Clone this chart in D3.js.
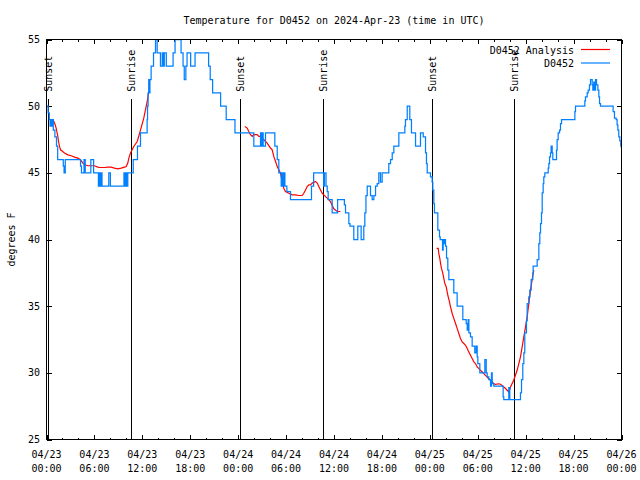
<!DOCTYPE html>
<html><head><meta charset="utf-8">
<script src="https://cdn.jsdelivr.net/npm/d3@7"></script>
<style>
body{margin:0;background:#fff}
svg{display:block}
text{font-family:"DejaVu Sans Mono","Liberation Mono",monospace;font-size:10px;fill:#000}
</style></head>
<body><svg id="c" width="640" height="480"></svg>
<script>
// ---- data ----
const title = "Temperature for D0452 on 2024-Apr-23 (time in UTC)";
const yLabel = "degrees F";
const seriesNames = ["D0452 Analysis", "D0452"];
const xTickHours = [0,6,12,18,24,30,36,42,48,54,60,66,72];
const xTickDates = ["04/23","04/23","04/23","04/23","04/24","04/24","04/24","04/24","04/25","04/25","04/25","04/25","04/26"];
const xTickTimes = ["00:00","06:00","12:00","18:00","00:00","06:00","12:00","18:00","00:00","06:00","12:00","18:00","00:00"];
const yTicks = [25,30,35,40,45,50,55];
const sunLabels = ["Sunset","Sunrise","Sunset","Sunrise","Sunset","Sunrise"];
const sunHours  = [0.13, 10.55, 24.2, 34.6, 48.25, 58.52];
const sunMarkTop = 50.55;

// observed station temperature (hour since 04/23 00:00 UTC, deg F)
const obsHours = [0.0,0.2,0.35,0.45,0.55,0.65,0.75,0.85,1.05,1.25,1.4,2.1,2.2,2.35,4.26,4.38,4.7,4.85,5.55,5.9,6.5,6.6,6.75,6.8,6.95,7.8,8.0,9.7,9.85,9.95,10.02,10.18,10.86,11.39,11.77,
12.6,12.65,12.72,12.8,12.88,12.95,13.1,13.4,13.65,13.86,14.27,14.5,14.65,14.75,15.0,15.85,16.1,16.85,17.1,17.25,17.45,17.6,18.05,18.6,20.3,20.5,20.8,21.8,22.5,23.6,
25.96,26.8,26.92,27.0,27.13,27.42,28.59,28.89,29.09,29.39,29.5,29.6,29.75,29.85,30.1,30.55,33.18,33.45,34.7,34.8,35.0,35.15,35.27,35.77,36.45,
37.3,37.44,37.86,38.0,38.48,38.98,39.4,39.73,39.86,40.0,40.16,40.57,40.78,40.99,41.2,41.41,41.61,41.82,42.03,42.86,43.08,43.29,43.49,44.12,44.87,44.95,45.17,45.49,45.7,46.21,46.83,
47.17,47.46,47.58,47.67,48.08,48.29,48.37,48.5,48.58,49.0,49.21,49.3,49.59,49.67,49.76,49.84,49.96,50.09,50.25,50.38,51.0,51.42,52.13,52.55,52.68,52.8,52.89,53.09,53.3,53.63,53.8,53.93,54.01,54.26,54.89,55.06,55.18,55.39,55.6,55.72,55.81,56.01,57.18,57.26,57.89,58.01,
59.35,59.48,59.64,59.77,59.89,60.1,60.19,60.39,60.52,60.69,60.89,60.94,61.44,61.65,61.77,61.86,61.98,62.07,62.19,62.27,62.4,62.82,62.9,62.99,63.11,63.19,63.32,63.4,63.86,63.94,64.07,64.24,64.36,64.49,66.16,66.24,67.41,67.49,67.7,67.83,67.99,68.12,68.33,68.41,68.53,68.66,68.75,68.87,69.04,69.16,69.25,69.37,70.95,71.12,71.33,71.45,71.54,71.66,71.79,71.91,72];
const obsTemps = [50,49.5,49,48.5,49,48.5,49,48.2,47.7,47,46,45.5,45,46,45.5,45,46,45,46,45,44,45,44,45,44,45,44,45,44,45,44,45,46,47,48,
49,50,51,52,51,52,53,54,55,54,53,54,53,54,53,54,55,54,53,52,53,54,53,54,53,52,51,50,49,48,
47,48,47,48,47,48,47,46,45,44,45,44,45,44,43.6,43,44,45,44,45,44,43.6,43,42,43,
42.6,42,41.2,41,40,41,40,41,42,43.3,44,43.3,43,43.3,44,44.2,45,44.3,45,45.7,46,46.5,47,48,48.5,49,50,49,48,47,48,
47.7,46.5,45.7,45,44.7,44.3,43.7,42.7,42,40.7,40.2,40,39.2,40,39.7,40,39.5,38.6,37.7,37,36,35,34,33.7,33.2,34,33,32.7,32,31.5,32,31.2,30.7,30,31,30,29.7,29.5,29,30,29.2,29,28.2,28,28.9,28,
28.5,29.5,30.7,31.5,33,33.9,35.2,35.7,36.2,37,37.5,38,38.5,39.7,40.5,41.2,42,43.5,44.2,44.7,45,45.35,45.7,46.2,46.5,47,46.5,46,46.7,47.5,48,48.2,48.7,49,49.6,50,50.4,50.7,51,51.2,51.6,52,51.6,51.2,51.8,51.2,52,51.6,51.2,50.7,50.2,50,49.6,49.1,49,48.6,48.2,47.7,47.4,47,46.8];

// analysis (null separates gaps)
const anaHours = [0.8,0.92,1.0,1.09,1.21,1.29,1.42,1.5,1.63,1.75,2.04,2.25,2.67,3.09,3.51,3.92,4.26,4.55,4.76,5.17,6.01,6.42,6.64,7.26,7.68,8.1,8.51,8.93,9.35,9.77,9.98,10.18,10.31,10.52,10.93,11.36,11.77,12.18,12.61,12.81,
null,
24.83,25.13,25.33,25.54,25.76,25.96,26.38,26.59,26.8,27.01,27.21,27.63,28.05,28.26,28.46,28.68,28.89,29.09,29.3,29.51,29.71,29.93,30.34,30.77,31.18,31.59,32.02,32.22,32.43,32.64,32.85,33.06,33.27,33.68,33.9,34.1,34.31,34.52,34.72,35.15,35.56,35.98,36.4,36.81,
null,
48.84,49.05,49.12,49.25,49.34,49.46,49.63,49.75,49.87,50.05,50.17,50.3,50.46,50.59,50.8,51.0,51.22,51.43,51.63,51.84,52.05,52.26,52.47,52.68,52.88,53.09,53.3,53.51,53.72,53.93,54.14,54.35,54.56,54.76,54.97,55.18,55.39,55.6,55.81,56.01,56.22,56.64,56.85,57.27,57.6,57.89,58.1,58.5,58.93,59.35,59.77,60.19,60.6,60.94,61.02];
const anaTemps = [49.0,48.86,48.73,48.6,48.36,48.1,47.73,47.35,46.98,46.73,46.6,46.48,46.35,46.28,46.18,46.1,45.98,45.73,45.6,45.53,45.53,45.43,45.4,45.4,45.43,45.43,45.35,45.3,45.35,45.43,45.47,45.73,46.1,46.48,46.98,47.35,48.2,49.1,50.36,51.1,
null,
48.48,48.36,48.1,47.86,47.73,47.86,47.86,47.73,47.73,47.6,47.48,47.23,46.86,46.73,46.23,45.85,45.47,45.23,44.98,44.35,43.85,43.6,43.47,43.35,43.35,43.3,43.3,43.47,43.72,43.97,44.1,44.1,44.23,44.35,44.23,43.97,43.72,43.47,43.35,43.1,42.84,42.3,42.1,42.1,
null,
39.34,39.34,38.96,38.59,38.21,37.83,37.46,37.08,36.71,36.46,36.08,35.7,35.32,34.95,34.45,34.08,33.7,33.32,32.95,32.57,32.32,32.2,32.07,31.82,31.57,31.32,31.07,30.82,30.7,30.44,30.32,30.19,30.06,29.94,29.81,29.68,29.56,29.44,29.31,29.18,29.14,29.18,29.14,28.94,28.75,28.56,28.94,29.44,30.19,31.2,32.7,34.2,36.2,37.46,37.7];

// ---- layout ----
const L = 46.5, R = 621.5, T = 39.5, B = 439.5;
const colors = ["#ff0000", "#0080ff"];
const svg = d3.select("#c");
const x = d3.scaleLinear().domain([0,72]).range([L,R]);
const y = d3.scaleLinear().domain([25,55]).range([B,T]);

svg.append("defs").append("clipPath").attr("id","clip")
  .append("rect").attr("x",L).attr("y",T).attr("width",R-L).attr("height",B-T);

// minor & major ticks (inward, mirrored)
const minor = d3.range(0,73,2);
function tickAxis(axisFn, scale, vals, size, tr){
  const g = svg.append("g").attr("transform",tr)
    .call(axisFn(scale).tickValues(vals).tickSize(size).tickFormat(""));
  g.select(".domain").remove();
  g.selectAll("line").attr("stroke","#000").attr("shape-rendering","crispEdges");
  return g;
}
tickAxis(d3.axisBottom, x, minor, -2, `translate(0,${B})`);
tickAxis(d3.axisTop, x, minor, -2, `translate(0,${T})`);
tickAxis(d3.axisBottom, x, xTickHours, -4.5, `translate(0,${B})`);
tickAxis(d3.axisTop, x, xTickHours, -4.5, `translate(0,${T})`);
tickAxis(d3.axisLeft, y, yTicks, -5, `translate(${L},0)`);
tickAxis(d3.axisRight, y, yTicks, -5, `translate(${R},0)`);

// x tick labels
const xl = svg.append("g");
xTickHours.forEach((h,i)=>{
  const t = xl.append("text").attr("text-anchor","middle");
  t.append("tspan").attr("x",x(h)).attr("y",B+18).text(xTickDates[i]);
  t.append("tspan").attr("x",x(h)).attr("y",B+32).text(xTickTimes[i]);
});
// y tick labels
svg.append("g").selectAll("text").data(yTicks).join("text")
  .attr("x",L-6.5).attr("y",d=>y(d)+3.5).attr("text-anchor","end").text(d=>d);

// title and axis label
svg.append("text").attr("x",(L+R)/2).attr("y",24).attr("text-anchor","middle").text(title);
svg.append("text").attr("transform",`translate(15,${(T+B)/2}) rotate(-90)`)
  .attr("text-anchor","middle").text(yLabel);

// sun lines
const sun = svg.append("g");
sunHours.forEach((h,i)=>{
  const xp = Math.round(x(h)) + 0.5;
  sun.append("line").attr("x1",xp).attr("x2",xp).attr("y1",y(sunMarkTop)).attr("y2",B)
    .attr("stroke","#000").attr("stroke-width",1).attr("shape-rendering","crispEdges");
  sun.append("text").attr("transform",`translate(${xp},${y(sunMarkTop)-7}) rotate(-90)`)
    .attr("dy","0.35em").attr("text-anchor","start").text(sunLabels[i]);
});

// series
const plot = svg.append("g").attr("clip-path","url(#clip)");
const ana = anaHours.map((h,i)=>({h, v: anaTemps[i]}));
const obs = obsHours.map((h,i)=>({h, v: obsTemps[i]}));
plot.append("path").datum(ana)
  .attr("d", d3.line().defined(d=>d.h!==null && d.v!==null).x(d=>x(d.h)).y(d=>y(d.v)))
  .attr("fill","none").attr("stroke",colors[0]).attr("stroke-width",1.2);
plot.append("path").datum(obs)
  .attr("d", d3.line().curve(d3.curveStepAfter).x(d=>x(d.h)).y(d=>y(d.v)))
  .attr("fill","none").attr("stroke",colors[1]).attr("stroke-width",1.25);

// frame
svg.append("rect").attr("x",L).attr("y",T).attr("width",R-L).attr("height",B-T)
  .attr("fill","none").attr("stroke","#000").attr("stroke-width",1).attr("shape-rendering","crispEdges");

// legend
const lg = svg.append("g");
seriesNames.forEach((n,i)=>{
  const yy = 49.5 + i*13.5;
  lg.append("text").attr("x",574).attr("y",yy+4).attr("text-anchor","end").text(n);
  lg.append("line").attr("x1",581).attr("x2",610).attr("y1",yy).attr("y2",yy)
    .attr("stroke",colors[i]).attr("stroke-width",1.2);
});
</script></body></html>
